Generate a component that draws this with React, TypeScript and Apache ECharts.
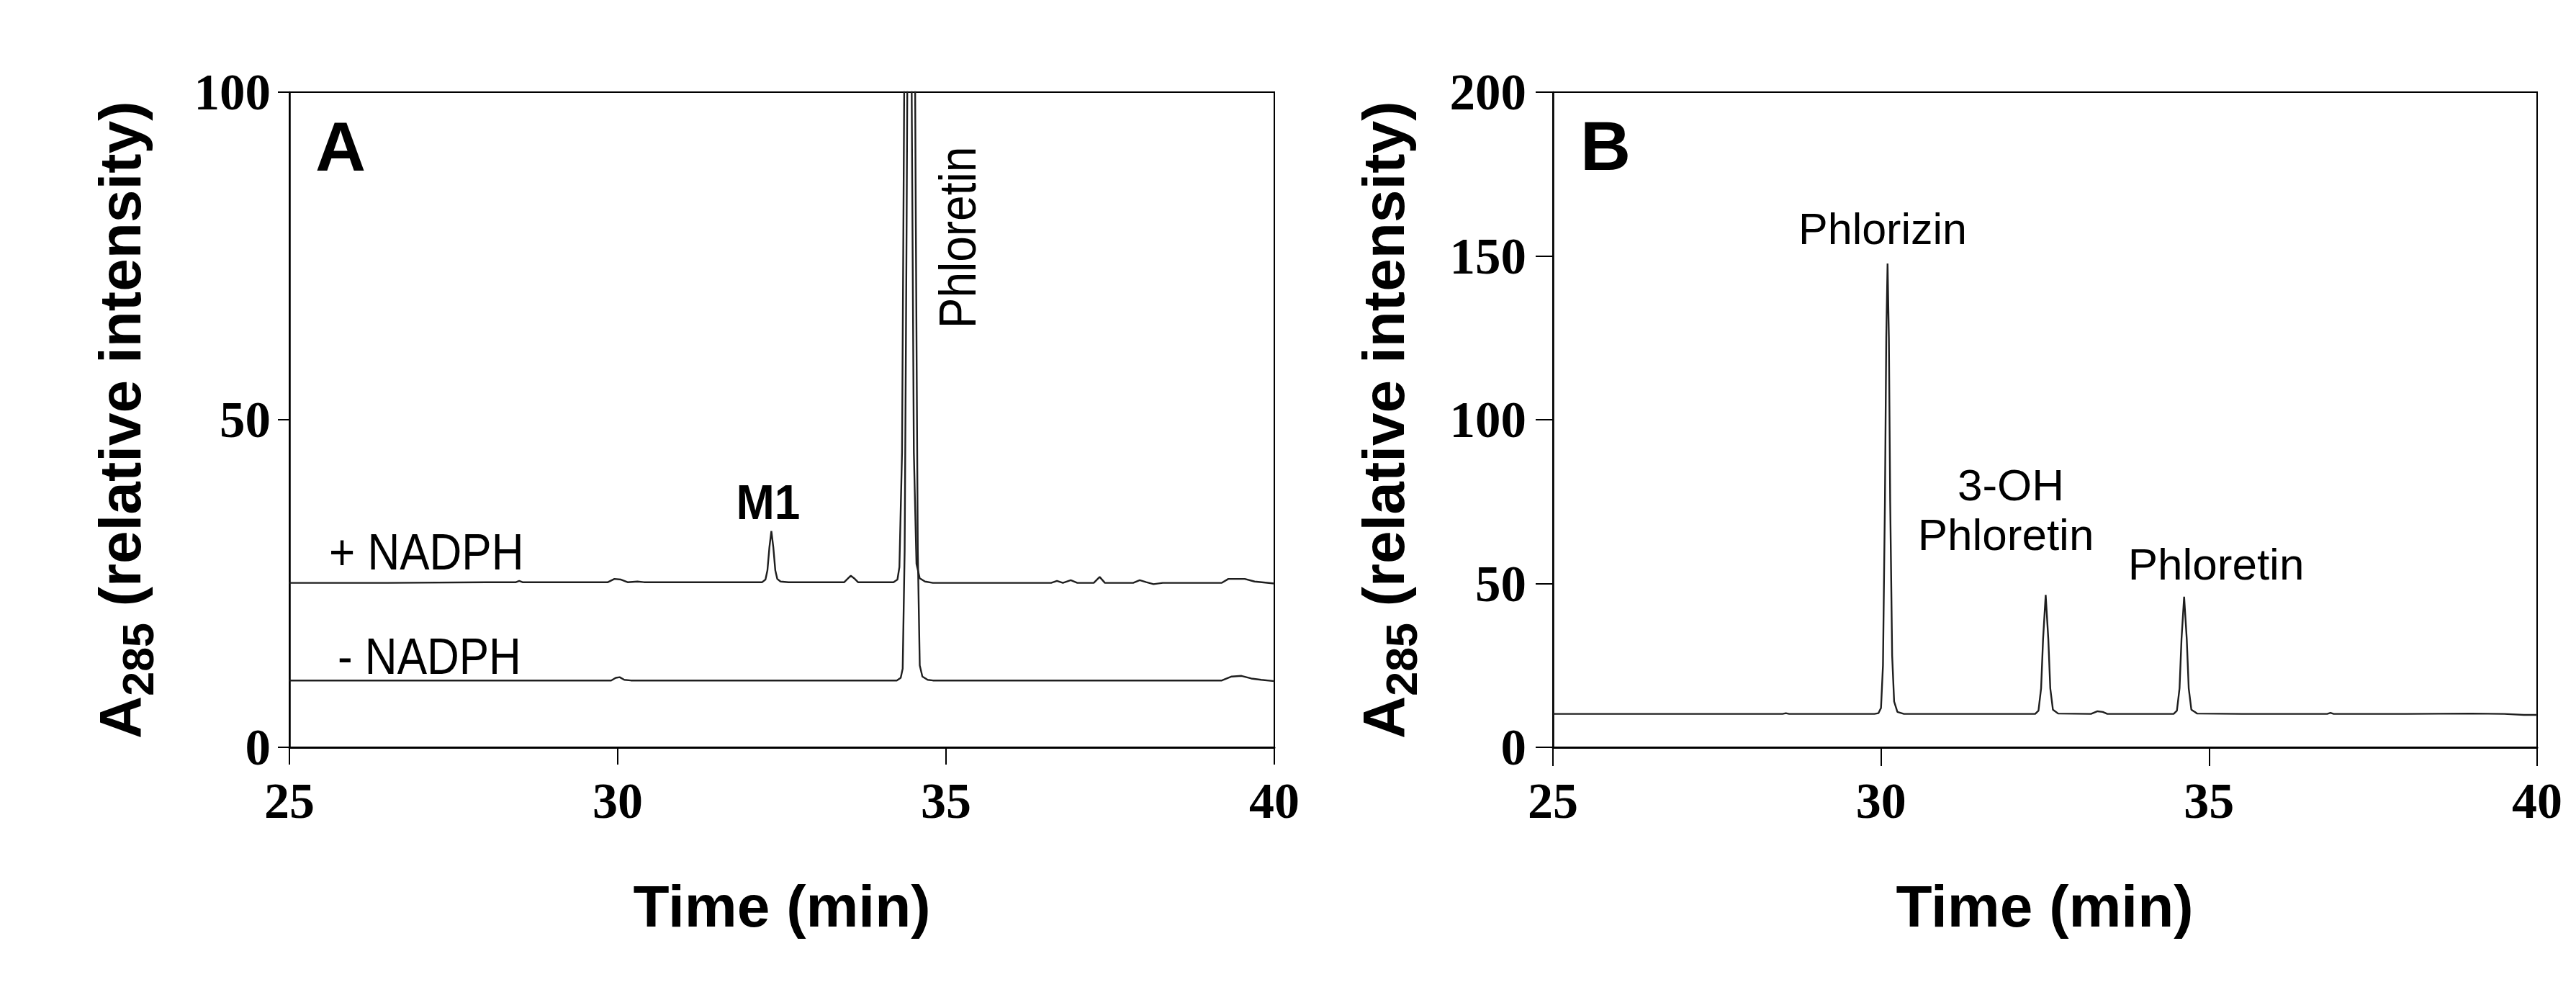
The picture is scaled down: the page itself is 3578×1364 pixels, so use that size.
import React, { useEffect, useRef } from "react";
import * as echarts from "echarts";

// ---- axis ticks ----
const timeTicks = [25, 30, 35, 40];
const yTicksA = [0, 50, 100];
const yTicksB = [0, 50, 100, 150, 200];

// ---- Panel A: + NADPH trace [time (min), A285] ----
const plusNadph: [number, number][] = [
  [25.0, 25.1], [26.5, 25.1], [28.0, 25.2], [28.45, 25.2], [28.5, 25.4], [28.55, 25.2],
  [29.85, 25.2], [29.95, 25.7], [30.05, 25.6], [30.15, 25.2], [30.3, 25.3], [30.4, 25.2],
  [31.5, 25.2], [32.2, 25.2], [32.25, 25.6], [32.28, 27.0], [32.31, 30.5], [32.34, 33.0],
  [32.37, 30.5], [32.4, 27.0], [32.43, 25.7], [32.48, 25.3], [32.6, 25.2],
  [33.45, 25.2], [33.51, 25.8], [33.55, 26.2], [33.6, 25.8], [33.66, 25.2],
  [34.2, 25.2], [34.26, 25.6], [34.29, 27.5], [34.33, 45], [34.36, 95], [34.39, 150],
  [34.42, 170], [34.45, 150], [34.48, 95], [34.51, 45], [34.55, 28], [34.6, 25.8],
  [34.68, 25.3], [34.8, 25.1], [36.6, 25.1], [36.69, 25.4], [36.78, 25.1], [36.9, 25.5],
  [37.0, 25.1], [37.25, 25.1], [37.34, 26.0], [37.42, 25.1], [37.85, 25.1], [37.95, 25.5],
  [38.05, 25.2], [38.16, 24.9], [38.3, 25.1], [39.2, 25.1], [39.3, 25.7], [39.55, 25.7],
  [39.7, 25.3], [40.0, 25.0],
];

// ---- Panel A: - NADPH trace ----
const minusNadph: [number, number][] = [
  [25.0, 10.2], [29.9, 10.2], [29.97, 10.6], [30.03, 10.7], [30.1, 10.3], [30.2, 10.2],
  [34.25, 10.2], [34.31, 10.6], [34.34, 12], [34.37, 30], [34.4, 80], [34.43, 140],
  [34.47, 165], [34.51, 140], [34.54, 80], [34.57, 30], [34.6, 12.5], [34.64, 10.8],
  [34.72, 10.3], [34.8, 10.2], [39.2, 10.2], [39.35, 10.8], [39.5, 10.9], [39.65, 10.5],
  [39.8, 10.3], [40.0, 10.1],
];

// ---- Panel B trace ----
const panelBTrace: [number, number][] = [
  [25.0, 10.2], [28.5, 10.2], [28.55, 10.4], [28.6, 10.2], [29.9, 10.2], [29.96, 10.4],
  [30.0, 12], [30.03, 25], [30.06, 75], [30.08, 125], [30.1, 147.7], [30.12, 125],
  [30.14, 75], [30.17, 28], [30.2, 14], [30.25, 10.8], [30.35, 10.2],
  [32.35, 10.2], [32.4, 11.2], [32.44, 18], [32.47, 33], [32.51, 46.5], [32.55, 33],
  [32.58, 18], [32.62, 11.5], [32.7, 10.3], [33.2, 10.2], [33.3, 11.0], [33.38, 10.8],
  [33.45, 10.2], [34.46, 10.2], [34.51, 11.2], [34.55, 18], [34.58, 33], [34.62, 46],
  [34.66, 33], [34.69, 18], [34.73, 11.5], [34.82, 10.3], [35.5, 10.2], [36.8, 10.2],
  [36.85, 10.5], [36.9, 10.2], [38.0, 10.2], [39.0, 10.3], [39.5, 10.2], [39.8, 9.9],
  [40.0, 9.9],
];

// ---- texts ----
const xTitle = "Time (min)";
const yTitleMain = "A";
const yTitleSub = "285";
const yTitleRest = " (relative intensity)";
const traceLabelsA = ["+ NADPH", "- NADPH"];
const peakLabelA = "M1";
const phloretinLabel = "Phloretin";
const peakLabelsB = ["Phlorizin", "3-OH", "Phloretin", "Phloretin"];

const SANS = "Liberation Sans";
const SERIF = "Liberation Serif";

function txt(
  text: string,
  x: number,
  y: number,
  size: number,
  o: { bold?: boolean; align?: string; rotation?: number; scaleY?: number } = {}
) {
  const align = o.align || "center";
  return {
    type: "text",
    x,
    y,
    rotation: o.rotation || 0,
    scaleX: 1,
    scaleY: o.scaleY || 1,
    silent: true,
    z: 100,
    style: {
      text,
      fill: "#000",
      fontSize: size,
      fontWeight: o.bold ? "bold" : "normal",
      fontFamily: SANS,
      align,
      verticalAlign: "middle",
      textAlign: align,
      textVerticalAlign: "middle",
    },
  };
}

function yTitle(dx: number) {
  const R = Math.PI / 2;
  return [
    txt(yTitleMain, 166.6 + dx, 1026, 82, { bold: true, align: "left", rotation: R }),
    txt(yTitleSub, 191.9 + dx, 966.8, 61, { bold: true, align: "left", rotation: R }),
    txt(yTitleRest, 166.6 + dx, 865.1, 82, { bold: true, align: "left", rotation: R }),
  ];
}

function makeXAxis(gridIndex: number, tickLen: number) {
  return {
    type: "value",
    gridIndex,
    min: timeTicks[0],
    max: timeTicks[timeTicks.length - 1],
    interval: timeTicks[1] - timeTicks[0],
    axisLine: { show: true, onZero: false, lineStyle: { color: "#000", width: 3 } },
    axisTick: { show: true, length: tickLen, lineStyle: { color: "#000", width: 2 } },
    axisLabel: {
      show: true,
      margin: 39,
      color: "#000",
      fontFamily: SERIF,
      fontWeight: "bold",
      fontSize: 70,
    },
    splitLine: { show: false },
  };
}

function makeYAxis(gridIndex: number, ticks: number[], tickLen: number, margin: number) {
  return {
    type: "value",
    gridIndex,
    min: ticks[0],
    max: ticks[ticks.length - 1],
    interval: ticks[1] - ticks[0],
    axisLine: { show: true, onZero: false, lineStyle: { color: "#000", width: 2.5 } },
    axisTick: { show: true, length: tickLen, lineStyle: { color: "#000", width: 2 } },
    axisLabel: {
      show: true,
      margin,
      color: "#000",
      fontFamily: SERIF,
      fontWeight: "bold",
      fontSize: 71,
    },
    splitLine: { show: false },
  };
}

function lineSeries(name: string, data: [number, number][], idx: number) {
  return {
    name,
    type: "line",
    xAxisIndex: idx,
    yAxisIndex: idx,
    data,
    symbol: "none",
    clip: true,
    smooth: false,
    lineStyle: { color: "#1e1e1e", width: 2.4 },
    emphasis: { disabled: true },
  };
}

export default function App() {
  const ref = useRef<HTMLDivElement>(null);
  useEffect(() => {
    if (!ref.current) return;
    const chart = echarts.init(ref.current, null, { renderer: "svg" });
    const option: any = {
      animation: false,
      backgroundColor: "#fff",
      textStyle: { fontFamily: SANS },
      grid: [
        { left: 402, top: 128, width: 1368, height: 910, show: true, borderColor: "#000", borderWidth: 2, backgroundColor: "transparent" },
        { left: 2157, top: 128, width: 1367, height: 910, show: true, borderColor: "#000", borderWidth: 2, backgroundColor: "transparent" },
      ],
      xAxis: [makeXAxis(0, 24), makeXAxis(1, 26)],
      yAxis: [makeYAxis(0, yTicksA, 16, 26), makeYAxis(1, yTicksB, 24, 37)],
      series: [
        lineSeries(traceLabelsA[0], plusNadph, 0),
        lineSeries(traceLabelsA[1], minusNadph, 0),
        lineSeries("B", panelBTrace, 1),
      ],
      graphic: [
        // panel letters
        txt("A", 473, 203, 97, { bold: true }),
        txt("B", 2230, 202, 97, { bold: true }),
        // axis titles
        txt(xTitle, 1086, 1258, 82, { bold: true }),
        txt(xTitle, 2840, 1258, 82, { bold: true }),
        ...yTitle(0),
        ...yTitle(1755),
        // panel A annotations
        txt(traceLabelsA[0], 457, 767, 62, { align: "left", scaleY: 1.13 }),
        txt(traceLabelsA[1], 469, 912, 62, { align: "left", scaleY: 1.13 }),
        txt(peakLabelA, 1067, 697, 64, { bold: true, scaleY: 1.08 }),
        txt(phloretinLabel, 1330, 330, 64, { rotation: Math.PI / 2, scaleY: 1.13 }),
        // panel B annotations
        txt(peakLabelsB[0], 2615, 318, 61),
        txt(peakLabelsB[1], 2793, 673, 62),
        txt(peakLabelsB[2], 2786, 742, 62),
        txt(peakLabelsB[3], 3078, 783, 62),
      ],
    };
    chart.setOption(option);
    return () => chart.dispose();
  }, []);
  return (
    <div
      ref={ref}
      style={{ position: "absolute", left: 0, top: 0, width: 3578, height: 1364, background: "#fff" }}
    />
  );
}
